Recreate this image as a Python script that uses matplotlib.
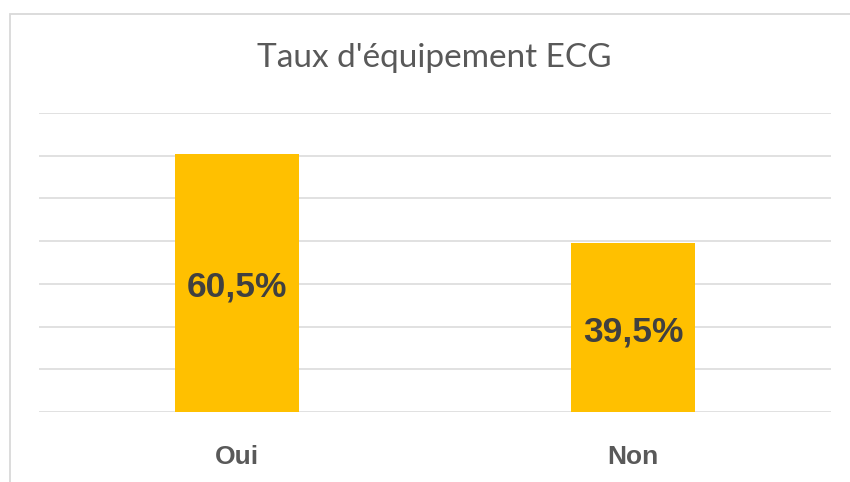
import matplotlib
matplotlib.use("Agg")
import matplotlib.pyplot as plt
from matplotlib.patches import Rectangle

categories = ["Oui", "Non"]
values = [60.5, 39.5]
labels = ["60,5%", "39,5%"]
title = "Taux d'équipement ECG"

W, H = 850, 482
fig = plt.figure(figsize=(W / 100, H / 100), dpi=100)
fig.patch.set_facecolor("white")

# outer chart border (right and bottom edges lie outside the picture)
fig.patches.append(Rectangle((10 / W, -0.2), 1.2, 1.2 - 14 / H, transform=fig.transFigure,
                             fill=False, edgecolor="#D9D9D9", linewidth=1.3, clip_on=False))

ax = fig.add_axes([39 / W, (H - 412) / H, (831 - 39) / W, (412 - 113) / H])
x = list(range(len(categories)))
ax.bar(x, values, width=0.313, color="#FFC000", zorder=3)
ax.set_xlim(-0.5, 1.5)
ax.set_ylim(0, 70)
ax.set_yticks(range(0, 71, 10))
ax.yaxis.grid(True, color="#D9D9D9", linewidth=1.1, zorder=0)
ax.tick_params(axis="y", left=False, labelleft=False)
ax.tick_params(axis="x", bottom=False, pad=20)
ax.set_xticks(x)
ax.set_xticklabels(categories, fontsize=19, fontweight="bold", color="#595959",
                   family="Liberation Sans")
for s in ax.spines.values():
    s.set_visible(False)
ax.set_facecolor("none")

for xi, v, lab in zip(x, values, labels):
    ax.annotate(lab, (xi, v / 2), xytext=(0, -3), textcoords="offset points",
                ha="center", va="center", fontsize=25.5, fontweight="bold",
                color="#404040", family="Liberation Sans", zorder=4)

fig.text(434 / W, 1 - 58 / H, title, ha="center", va="center", fontsize=24,
         color="#595959", family="Lato")

fig.savefig("out.png", dpi=100)
